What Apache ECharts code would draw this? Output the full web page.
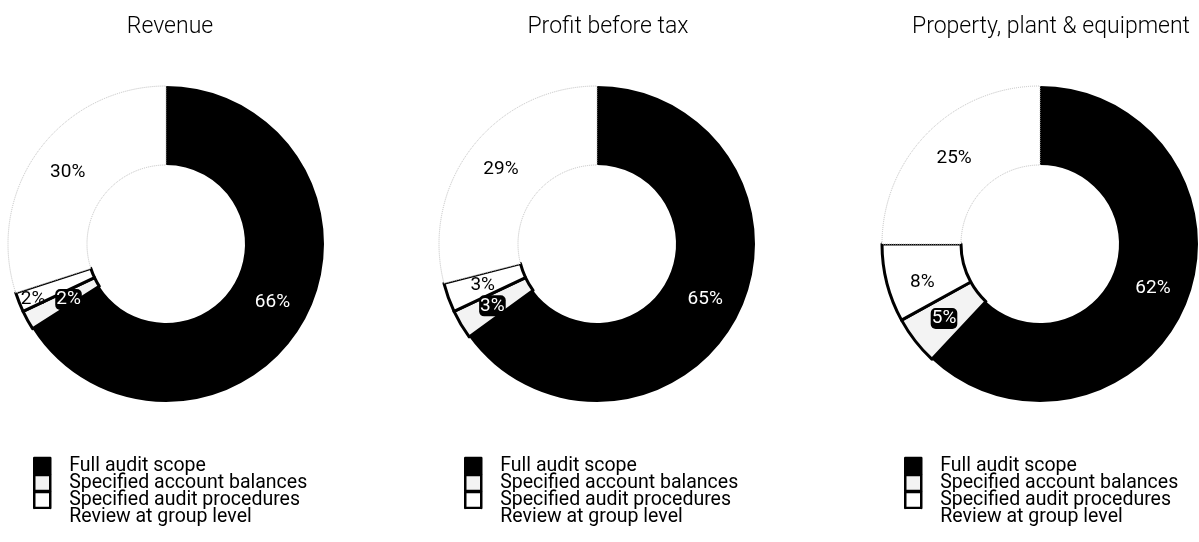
<!DOCTYPE html>
<html>
<head>
<meta charset="utf-8">
<script src="https://cdn.jsdelivr.net/npm/echarts@6/dist/echarts.min.js"></script>
<style>html,body{margin:0;padding:0;background:#fff;}#c{width:1199px;height:542px;}</style>
</head>
<body>
<div id="c"></div>
<script>
const categories = ['Full audit scope', 'Specified account balances', 'Specified audit procedures', 'Review at group level'];
const titles = ['Revenue', 'Profit before tax', 'Property, plant & equipment'];
const revenue = [66, 2, 2, 30];
const profit = [65, 3, 3, 29];
const ppe = [62, 5, 8, 25];
const datasets = [revenue, profit, ppe];

const centersX = [166, 597, 1040];
const titleX = [165, 603, 1046];
const legendLeft = [33, 464, 904];
const font = 'Roboto, "Noto Sans", sans-serif';

const sliceStyles = [
  { color: '#000000', borderColor: '#000000', borderWidth: 0 },
  { color: '#f3f3f3', borderColor: '#000000', borderWidth: 3 },
  { color: '#ffffff', borderColor: '#000000', borderWidth: 3 },
  { color: '#ffffff', borderColor: '#c0c0c0', borderWidth: 1, borderType: 'dotted' }
];
const labelStyles = [
  { color: '#ffffff' },
  { color: '#ffffff', backgroundColor: '#000000', borderRadius: 5, padding: [1, 1] },
  { color: '#000000' },
  { color: '#000000' }
];

const series = datasets.map((vals, si) => ({
  type: 'pie',
  radius: [79, 158],
  center: [centersX[si], 244],
  startAngle: 90,
  clockwise: true,
  silent: true,
  avoidLabelOverlap: false,
  label: { show: true, position: 'inside', formatter: '{c}%', fontSize: 19, fontFamily: font },
  labelLine: { show: false },
  labelLayout: si === 0 ? function (p) {
    if (p.dataIndex === 1) return { dx: 9, dy: -3 };
    if (p.dataIndex === 2) return { dx: -20, dy: 11 };
    return {};
  } : (si === 2 ? function (p) {
    if (p.dataIndex === 2) return { dx: 0, dy: 8 };
    return {};
  } : undefined),
  data: vals.map((v, i) => ({
    name: categories[i],
    value: v,
    itemStyle: sliceStyles[i],
    label: labelStyles[i]
  }))
}));

const legendData = categories.map((c, i) => i === 3
  ? { name: c, itemStyle: { color: '#ffffff', borderColor: '#ffffff', borderWidth: 0 } }
  : { name: c });

const legends = legendLeft.map(l => ({
  orient: 'vertical',
  left: l,
  top: 456,
  padding: 0,
  itemWidth: 16,
  itemHeight: 16,
  itemGap: -3,
  itemStyle: { borderWidth: 2.5 },
  icon: 'rect',
  selectedMode: false,
  textStyle: { fontSize: 19.5, color: '#000', fontFamily: font, padding: [0, 0, 0, 14] },
  data: legendData
}));

const chart = echarts.init(document.getElementById('c'));
chart.setOption({
  animation: false,
  backgroundColor: '#ffffff',
  title: titles.map((t, i) => ({
    text: t,
    left: titleX[i],
    textAlign: 'center',
    top: 11,
    textStyle: { fontSize: 23, fontWeight: 300, color: '#000', fontFamily: font }
  })),
  legend: legends,
  series: series
});
</script>
</body>
</html>
